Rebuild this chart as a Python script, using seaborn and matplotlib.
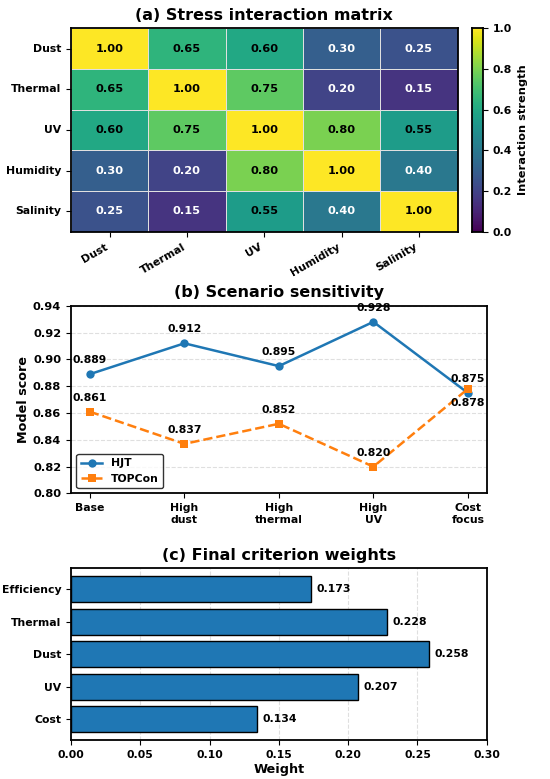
import numpy as np
import pandas as pd
import seaborn as sns
import matplotlib
matplotlib.use("Agg")
import matplotlib.pyplot as plt

# Data
stresses = ["Dust", "Thermal", "UV", "Humidity", "Salinity"]
interaction = [
    [1.00, 0.65, 0.60, 0.30, 0.25],
    [0.65, 1.00, 0.75, 0.20, 0.15],
    [0.60, 0.75, 1.00, 0.80, 0.55],
    [0.30, 0.20, 0.80, 1.00, 0.40],
    [0.25, 0.15, 0.55, 0.40, 1.00],
]

scenarios = ["Base", "High\ndust", "High\nthermal", "High\nUV", "Cost\nfocus"]
hjt_scores = [0.889, 0.912, 0.895, 0.928, 0.875]
topcon_scores = [0.861, 0.837, 0.852, 0.820, 0.878]

criteria = ["Efficiency", "Thermal", "Dust", "UV", "Cost"]
weights = [0.173, 0.228, 0.258, 0.207, 0.134]

plt.rcParams['font.family'] = ['DejaVu Sans']
plt.rcParams['font.weight'] = 'bold'
plt.rcParams['axes.titleweight'] = 'bold'
plt.rcParams['axes.labelweight'] = 'bold'
plt.rcParams['axes.linewidth'] = 1.3

TICK = 7.8
ANN = 7.8

fig = plt.figure(figsize=(5.5, 7.79), dpi=100)

# (a) heatmap
ax1 = fig.add_axes([0.129, 0.7025, 0.703, 0.261])
cax = fig.add_axes([0.859, 0.7025, 0.019, 0.261])
mat = pd.DataFrame(interaction, index=stresses, columns=stresses)
sns.heatmap(mat, ax=ax1, cbar_ax=cax, cmap="viridis", vmin=0, vmax=1,
            annot=True, fmt=".2f", annot_kws={"fontsize": 8.2, "fontweight": "bold"},
            linewidths=0.4, linecolor="#e0e0e0")
vals = mat.values.flatten()
for txt, v in zip(ax1.texts, vals):
    txt.set_color("black" if v >= 0.5 else "white")
for sp in ax1.spines.values():
    sp.set_visible(True)
    sp.set_linewidth(1.3)
ax1.set_title("(a) Stress interaction matrix", fontsize=11.5, pad=6)
ax1.set_xticklabels(stresses, rotation=30, ha="right", fontsize=TICK)
ax1.set_yticklabels(stresses, rotation=0, fontsize=TICK)
cax.set_ylabel("Interaction strength", fontsize=8.2)
cax.tick_params(labelsize=TICK)
for sp in cax.spines.values():
    sp.set_visible(True)

# (b) scenario sensitivity
ax2 = fig.add_axes([0.129, 0.3665, 0.756, 0.241])
df = pd.DataFrame({
    "scenario": scenarios * 2,
    "score": hjt_scores + topcon_scores,
    "tech": ["HJT"] * len(scenarios) + ["TOPCon"] * len(scenarios),
})
sns.lineplot(data=df, x="scenario", y="score", hue="tech", style="tech",
             markers={"HJT": "o", "TOPCon": "s"}, dashes={"HJT": "", "TOPCon": (3.7, 1.6)},
             palette={"HJT": "#1f77b4", "TOPCon": "#ff7f0e"},
             linewidth=1.8, markersize=6, markeredgewidth=0, ax=ax2)
for i, v in enumerate(hjt_scores):
    ax2.annotate(f"{v:.3f}", (i, v), xytext=(0, 10), textcoords="offset points",
                 ha="center", va="center", fontsize=ANN, fontweight="bold")
for i, v in enumerate(topcon_scores):
    dy = -10 if i == len(topcon_scores) - 1 else 10
    ax2.annotate(f"{v:.3f}", (i, v), xytext=(0, dy), textcoords="offset points",
                 ha="center", va="center", fontsize=ANN, fontweight="bold")
ax2.set_xlim(-0.2, 4.2)
ax2.set_ylim(0.80, 0.94)
ax2.set_yticks(np.arange(0.80, 0.941, 0.02))
ax2.set_xlabel("")
ax2.set_ylabel("Model score", fontsize=9.2, labelpad=2)
ax2.set_title("(b) Scenario sensitivity", fontsize=11.5, pad=6)
ax2.tick_params(axis="x", labelsize=TICK)
ax2.tick_params(axis="y", labelsize=8.2)
ax2.yaxis.grid(True, linestyle="--", alpha=0.4)
ax2.set_axisbelow(True)
leg = ax2.legend(loc="lower left", fontsize=TICK, title=None)
leg.get_frame().set_edgecolor("black")

# (c) final weights
ax3 = fig.add_axes([0.129, 0.05, 0.756, 0.2205])
wdf = pd.DataFrame({"criterion": criteria, "weight": weights})
sns.barplot(data=wdf, x="weight", y="criterion", orient="h", color="#1f77b4",
            saturation=1, edgecolor="black", linewidth=1.0, width=0.8, ax=ax3)
for i, v in enumerate(weights):
    ax3.text(v + 0.004, i, f"{v:.3f}", va="center", ha="left", fontsize=ANN, fontweight="bold")
ax3.set_xlim(0, 0.30)
ax3.set_ylim(len(criteria) - 1 + 0.64, -0.64)
ax3.set_ylabel("")
ax3.set_xlabel("Weight", fontsize=9.2, labelpad=2)
ax3.set_title("(c) Final criterion weights", fontsize=11.5, pad=6)
ax3.tick_params(labelsize=TICK)
ax3.xaxis.grid(True, linestyle="--", alpha=0.4)
ax3.set_axisbelow(True)

fig.savefig("out.png", dpi=100)
